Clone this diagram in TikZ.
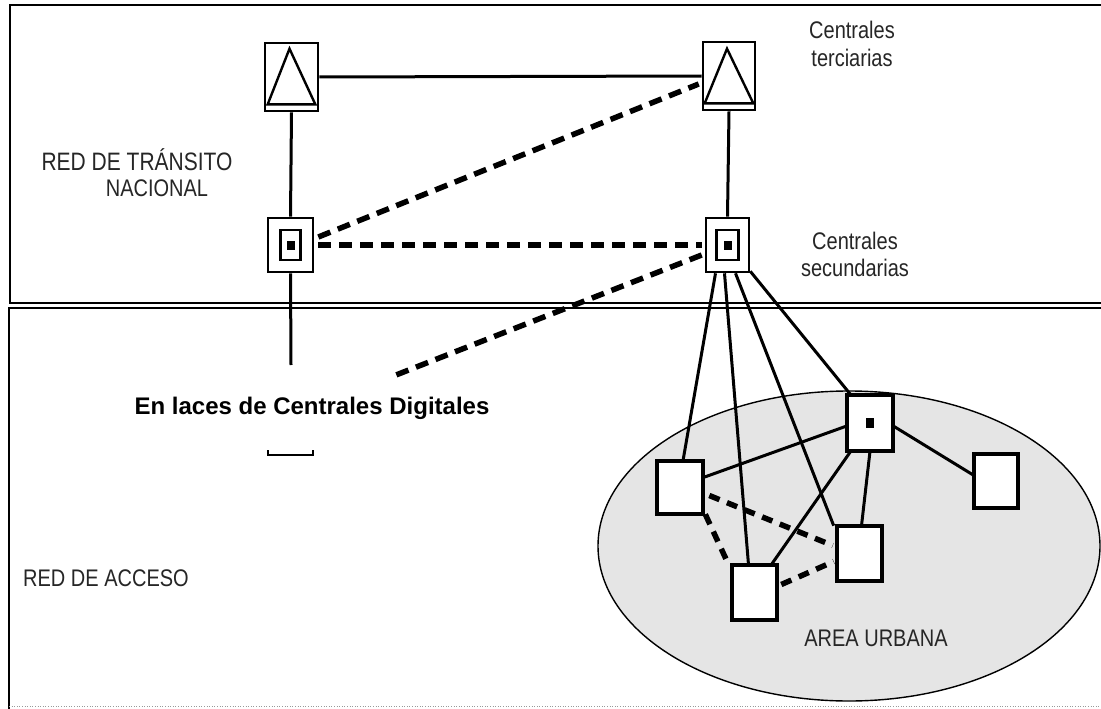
\documentclass[tikz,border=0pt]{standalone}
\usepackage{fontspec}
\setmainfont{Liberation Sans}
\usetikzlibrary{calc}
\newcommand{\tallt}[1]{\scalebox{1}[1.2]{#1}}
\begin{document}
\begin{tikzpicture}[x=1pt,y=-1pt,
  box/.style={draw,line width=2.6pt,fill=white,inner sep=0pt,rectangle},
  link/.style={line width=3pt},
  dlink/.style={line width=5.5pt,dash pattern=on 13pt off 8pt},
  lbl/.style={font=\fontsize{20}{22}\selectfont,inner sep=0pt,text=black!85}]
\useasboundingbox (0,0) rectangle (1101,709);
\fill[white] (0,0) rectangle (1101,709);
% frames
\draw[line width=2.8pt] (1101,5) -- (10,5) -- (10,303) -- (1101,303);
\draw[line width=2.8pt] (1101,308) -- (9,308) -- (9,709);
\draw[line width=0.6pt,black!40,dotted] (9,706) -- (1101,706);
% urban area
\draw[line width=1.4pt,fill=black!10] (849,546) ellipse [x radius=251, y radius=155];
% nodes
\node[box,minimum width=53,minimum height=68] (TL) at (291.5,77) {};
\node[box,minimum width=52,minimum height=68] (TR) at (729,76) {};
\draw[line width=2.4pt] ($(TL.south west)+(4,-8)$) -- ($(TL.north)+(-2,7)$) -- ($(TL.south east)+(-4,-8)$) -- cycle;
\draw[line width=2.4pt] ($(TR.south west)+(3,-8)$) -- ($(TR.north)+(-2,8)$) -- ($(TR.south east)+(-3,-8)$) -- cycle;
\node[box,minimum width=45,minimum height=54] (SL) at (290.5,245) {};
\node[box,minimum width=43,minimum height=54] (SR) at (727.5,245) {};
\node[box,line width=2.4pt,minimum width=20,minimum height=30] (SLi) at (SL) {};
\node[box,line width=2.4pt,minimum width=22,minimum height=30] (SRi) at (SR) {};
\fill (286.5,240.5) rectangle (294.5,249.5);
\fill (723.5,240.5) rectangle (731.5,249.5);
\coordinate (endL) at (291,365);
\coordinate (endD) at (396,375);
% top links
\draw[link] (TL.east) -- (TR.west);
\draw[link] (TL.south) -- (SL.north);
\draw[link] (SL.south) -- (endL);
\draw[link] (TR.south) -- (SR.north);
\draw[dlink] ($(SL.east)+(4,-8)$) -- ($(TR.west)+(-3,8)$);
\draw[dlink] ($(SL.east)+(4,0)$) -- ($(SR.west)+(-3,0)$);
\draw[dlink] ($(SR.west)+(-3,10)$) -- (endD);
% access nodes
\node[box,minimum width=44,minimum height=51] (A) at (680,487.5) {};
\node[box,minimum width=43,minimum height=53] (B) at (754.5,592.5) {};
\node[box,minimum width=43,minimum height=53] (C) at (859.5,553.5) {};
\node[box,minimum width=44,minimum height=54] (D) at (870,423) {};
\node[box,minimum width=43,minimum height=52] (E) at (996,481) {};
\fill (866,418) rectangle (874,428);
% fan from secondary
\draw[link] ($(SR.south)+(-12,0)$) -- ($(A.north)+(3,0)$);
\draw[link] ($(SR.south)+(-3,0)$) -- ($(B.north)+(-6,0)$);
\draw[link] ($(SR.south)+(8,0)$) -- ($(C.north west)+(-3,0)$);
\draw[link] ($(SR.south east)+(0,-2)$) -- ($(D.north west)+(4,0)$);
% urban links
\draw[link] ($(A.east)+(0,-10)$) -- ($(D.west)+(0,3)$);
\draw[link] ($(D.south west)+(4,0)$) -- ($(B.north east)+(-6,0)$);
\draw[link] (D.south) -- ($(C.north)+(2,0)$);
\draw[link] ($(D.east)+(0,3)$) -- ($(E.west)+(0,-6)$);
\draw[dlink,dash pattern=on 11pt off 8pt] ($(A.east)+(6,8)$) -- ($(C.west)+(-4,-8)$);
\draw[dlink,dash pattern=on 11pt off 8pt] ($(A.south east)+(2,0)$) -- ($(B.north west)+(-4,-2)$);
\draw[dlink,dash pattern=on 11pt off 8pt] ($(B.east)+(4,-8)$) -- ($(C.west)+(-3,8)$);
% redraw box borders on top of lines
\foreach \n in {A,B,C,D,E}{\draw[line width=2.6pt] (\n.north west) rectangle (\n.south east);}
% labels
\node[lbl] (t1) at (852,30) {\tallt{Centrales}};
\node[lbl] (t2) at (852,58) {\tallt{terciarias}};
\node[lbl] (s1) at (855,241) {\tallt{Centrales}};
\node[lbl] (s2) at (855,268) {\tallt{secundarias}};
\node[lbl,font=\fontsize{21}{23}\selectfont] (r1) at (137,160) {\tallt{RED DE TRÁNSITO}};
\node[lbl] (r2) at (157,188) {\tallt{NACIONAL}};
\node[lbl,font=\fontsize{24}{26}\selectfont\bfseries,text=black,anchor=base] (en) at (312,414) {En laces de Centrales Digitales};
\node[lbl] (ra) at (106,578) {\tallt{RED DE ACCESO}};
\node[lbl] (au) at (876,638) {\tallt{AREA URBANA}};
% small bracket
\coordinate (br1) at (268,450);
\coordinate (br2) at (313,450);
\draw[line width=1.8pt] (br1) -- ++(0,5) -- ($(br2)+(0,5)$) -- (br2);
\end{tikzpicture}
\end{document}
